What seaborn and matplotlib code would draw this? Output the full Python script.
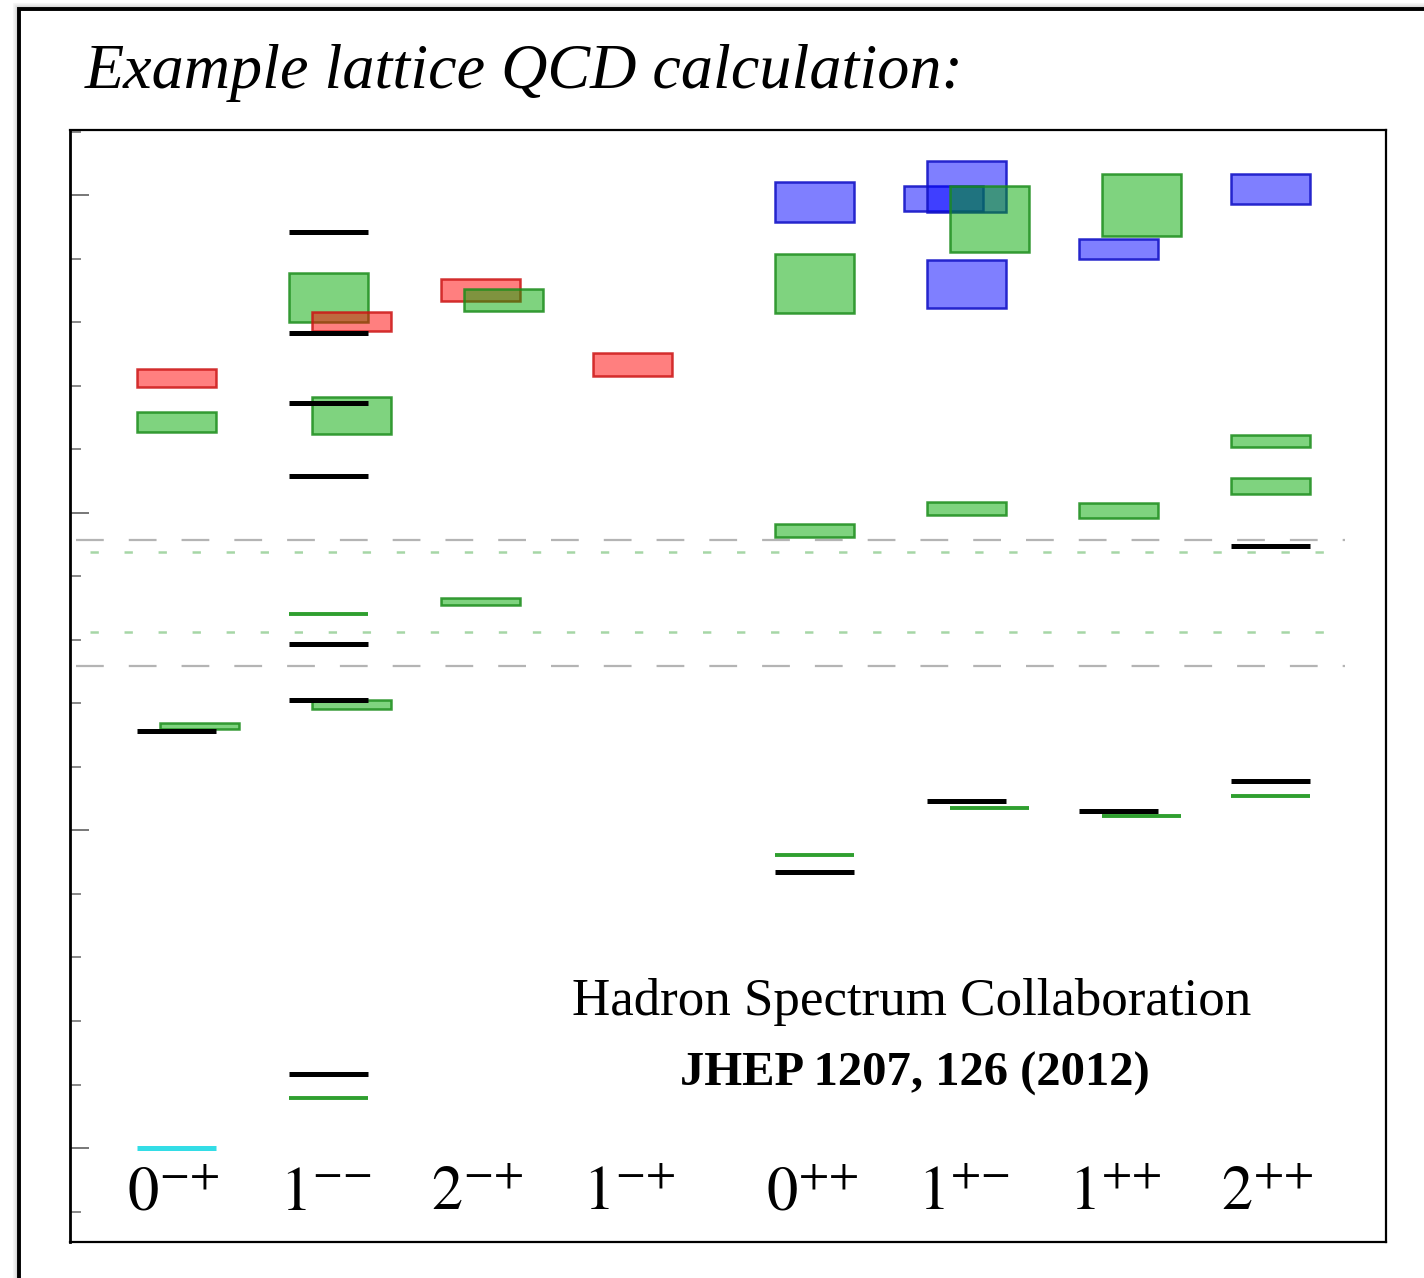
import matplotlib
matplotlib.use("Agg")
import matplotlib.pyplot as plt
import seaborn as sns
from matplotlib.patches import Rectangle

# ---------------- data ----------------
categories = [r"$0^{{-}{+}}$", r"$1^{{-}{-}}$", r"$2^{{-}{+}}$", r"$1^{{-}{+}}$",
              r"$0^{{+}{+}}$", r"$1^{{+}{-}}$", r"$1^{{+}{+}}$", r"$2^{{+}{+}}$"]
col_positions = [0, 1, 2, 3, 4.2, 5.2, 6.2, 7.2]

# boxes: kind, column index, sub-column shift, centre (MeV), half-height (MeV)
box_kind  = ["red", "green",
             "green", "red", "green", "green",
             "red", "green", "green",
             "red",
             "blue", "green", "green",
             "blue", "blue", "green", "blue", "green",
             "green", "blue", "green",
             "blue", "green", "green",
             "green"]
box_col   = [0, 0,
             1, 1, 1, 1,
             2, 2, 2,
             3,
             4, 4, 4,
             5, 5, 5, 5, 5,
             6, 6, 6,
             7, 7, 7,
             0]
box_shift = [0, 0,
             0, 1, 1, 1,
             0, 1, 0,
             0,
             0, 0, 0,
             -1, 0, 1, 0, 0,
             1, 0, 0,
             0, 0, 0,
             1]
box_mid   = [1213, 1143,
             1339, 1302, 1154, 698,
             1351, 1335, 861,
             1234,
             1490, 1361, 972,
             1495, 1514, 1463, 1361, 1007,
             1485, 1416, 1004,
             1510, 1113, 1043,
             664]
box_half  = [14, 15.5,
             38.5, 15, 29, 7,
             17, 17, 5.5,
             18,
             31.5, 46, 10,
             20, 40, 52, 38, 10,
             49, 16, 12,
             23, 9.5, 12.5,
             4.5]

# thin level lines: kind, column index, shift, value (MeV)
line_kind  = ["black"] * 13 + ["green"] * 6 + ["cyan"]
line_col   = [0, 1, 1, 1, 1, 1, 1, 1, 4, 5, 6, 7, 7,
              1, 1, 4, 5, 6, 7,
              0]
line_shift = [0, 0, 0, 0, 0, 0, 0, 0, 0, 0, 0, 0, 0,
              0, 0, 0, 1, 1, 0,
              0]
line_value = [657, 1443, 1283, 1173, 1058, 794, 706, 117, 435, 546, 531, 948, 578,
              841, 79, 461, 535, 523, 554,
              0]

# thresholds (MeV)
gray_thresholds = [957, 759]
green_thresholds = [939, 813]

title = "Example lattice QCD calculation:"
credit1 = "Hadron Spectrum Collaboration"
credit2 = "JHEP 1207, 126 (2012)"

# ---------------- style ----------------
sns.set_theme(style="white")
plt.rcParams["mathtext.fontset"] = "stix"
plt.rcParams["lines.scale_dashes"] = False
plt.rcParams["text.color"] = "black"
plt.rcParams["font.family"] = ["Liberation Serif", "DejaVu Serif"]

face = {"red": (1.0, 0.0, 0.0, 0.5), "green": (0.0, 0.66, 0.0, 0.5),
        "blue": (0.0, 0.0, 1.0, 0.5)}
edge = {"red": (0.80, 0.08, 0.08, 0.85), "green": (0.10, 0.55, 0.10, 0.85),
        "blue": (0.08, 0.08, 0.78, 0.9)}
line_color = {"black": "black", "green": "#2f9f2f", "cyan": "#33dde6"}
line_width = {"black": 3.6, "green": 2.8, "cyan": 3.6}

W = 0.52
SHIFT = 0.15

fig = plt.figure(figsize=(14.24, 12.78), dpi=100)
fig.patch.set_facecolor("white")

# outer slide frame with a soft shadow
for k, a in zip(range(6, 0, -1), [0.04, 0.06, 0.09, 0.13, 0.18, 0.25]):
    fig.patches.append(Rectangle((19 / 1424 - k / 1424, -0.2), 2.0, 0.2 + (1 - 9 / 1278) + k / 1278,
                                 transform=fig.transFigure, fill=False,
                                 edgecolor=(0, 0, 0, a), linewidth=0.8, zorder=0))
fig.patches.append(Rectangle((19 / 1424, -0.2), 2.0, 0.2 + (1 - 9 / 1278),
                             transform=fig.transFigure, fill=False,
                             edgecolor="black", linewidth=2.8, zorder=1))

fig.text(85 / 1424, 1 - 88 / 1278, title, fontsize=46.2, style="italic", color="black",
         family=["Liberation Serif", "DejaVu Serif"], ha="left", va="baseline")

ax = fig.add_axes([70 / 1424, 1 - 1242 / 1278, (1386 - 70) / 1424, (1242 - 130) / 1278])
ax.set_facecolor("white")
ax.set_xlim(-0.70, 7.96)
ax.set_ylim(-148, 1603)

# thresholds
x0, x1 = -0.66, 7.69
for v in gray_thresholds:
    ax.hlines(v, x0, x1, colors="#b4b4b4", linewidth=1.6,
              linestyles=[(0, (20, 18))], zorder=1)
for v in green_thresholds:
    ax.hlines(v, x0 + 0.09, x1, colors="#a6d6a6", linewidth=1.8,
              linestyles=[(0, (6, 18.5))], zorder=1)

# boxes
for k, c, s, m, h in zip(box_kind, box_col, box_shift, box_mid, box_half):
    x = col_positions[c] + s * SHIFT
    ax.bar(x, 2 * h, bottom=m - h, width=W, color=face[k], edgecolor=edge[k],
           linewidth=1.8, zorder=3)

# level lines
for k, c, s, v in zip(line_kind, line_col, line_shift, line_value):
    x = col_positions[c] + s * SHIFT
    ax.hlines(v, x - W / 2, x + W / 2, colors=line_color[k],
              linewidth=line_width[k], zorder=4)

# category labels inside the axes
for lab, p in zip(categories, col_positions):
    ax.text(p - 0.02, -98, lab, fontsize=45, ha="center", va="baseline",
            color="black", zorder=5)

ax.text(4.84, 209, credit1, fontsize=38.2, ha="center", va="baseline", color="black")
ax.text(4.86, 99, credit2, fontsize=35, ha="center", va="baseline",
        fontweight="bold", color="black")

# ticks
ax.set_yticks(range(0, 1600, 500))
ax.set_yticks(range(-100, 1601, 100), minor=True)
ax.tick_params(axis="y", which="major", direction="in", length=14, width=1.4,
               color="#777777", left=True, right=False, labelleft=False)
ax.tick_params(axis="y", which="minor", direction="in", length=8, width=1.4,
               color="#888888", left=True, right=False)
ax.tick_params(axis="x", which="both", bottom=False, top=False, labelbottom=False)
ax.set_xticks([])
for name, sp in ax.spines.items():
    sp.set_visible(True)
    sp.set_color("black")
    sp.set_linewidth(2.0 if name == "left" else 1.6)
ax.grid(False)

fig.savefig("out.png", dpi=100)
